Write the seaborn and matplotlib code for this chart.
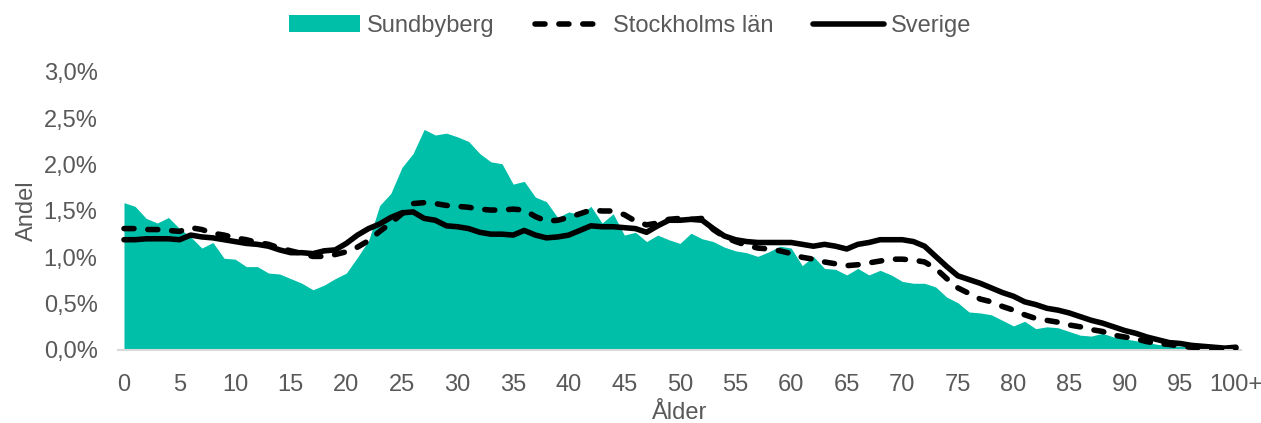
import matplotlib
matplotlib.use("Agg")
import matplotlib.pyplot as plt
import numpy as np
import pandas as pd
import seaborn as sns
from matplotlib.ticker import FuncFormatter, FixedLocator

# ---------------- data (percent of population by age) ----------------
ages = list(range(101))

sundbyberg = [1.59, 1.55, 1.42, 1.37, 1.43, 1.31, 1.22, 1.10, 1.16, 0.99,
              0.98, 0.90, 0.90, 0.83, 0.82, 0.77, 0.72, 0.65, 0.70, 0.77,
              0.83, 1.00, 1.18, 1.56, 1.69, 1.97, 2.12, 2.38, 2.32, 2.34,
              2.30, 2.25, 2.12, 2.03, 2.01, 1.79, 1.82, 1.65, 1.60, 1.43,
              1.49, 1.46, 1.55, 1.37, 1.47, 1.24, 1.27, 1.17, 1.24, 1.19,
              1.15, 1.26, 1.20, 1.17, 1.11, 1.07, 1.05, 1.01, 1.06, 1.12,
              1.10, 0.91, 1.01, 0.88, 0.87, 0.81, 0.88, 0.81, 0.86, 0.81,
              0.74, 0.72, 0.72, 0.68, 0.57, 0.51, 0.41, 0.40, 0.38, 0.32,
              0.26, 0.31, 0.23, 0.25, 0.24, 0.20, 0.16, 0.15, 0.18, 0.14,
              0.12, 0.10, 0.08, 0.06, 0.05, 0.04, 0.03, 0.02, 0.01, 0.01,
              0.01]

stockholms_lan = [1.31, 1.31, 1.30, 1.30, 1.29, 1.28, 1.32, 1.30, 1.26, 1.24,
                  1.21, 1.19, 1.16, 1.14, 1.10, 1.07, 1.04, 1.01, 1.01, 1.03,
                  1.06, 1.11, 1.18, 1.28, 1.37, 1.47, 1.58, 1.59, 1.58, 1.56,
                  1.55, 1.54, 1.52, 1.51, 1.51, 1.52, 1.51, 1.44, 1.39, 1.40,
                  1.43, 1.47, 1.51, 1.50, 1.50, 1.46, 1.39, 1.35, 1.37, 1.41,
                  1.42, 1.41, 1.42, 1.30, 1.22, 1.17, 1.13, 1.10, 1.09, 1.07,
                  1.04, 1.00, 0.98, 0.95, 0.93, 0.91, 0.92, 0.94, 0.96, 0.98,
                  0.98, 0.97, 0.95, 0.88, 0.77, 0.67, 0.61, 0.55, 0.52, 0.47,
                  0.43, 0.38, 0.34, 0.32, 0.30, 0.27, 0.25, 0.22, 0.20, 0.16,
                  0.14, 0.12, 0.09, 0.07, 0.06, 0.04, 0.03, 0.02, 0.015, 0.01,
                  0.02]

sverige = [1.19, 1.19, 1.20, 1.20, 1.20, 1.19, 1.24, 1.22, 1.21, 1.19,
           1.17, 1.15, 1.14, 1.12, 1.08, 1.05, 1.05, 1.04, 1.07, 1.08,
           1.15, 1.24, 1.31, 1.36, 1.43, 1.48, 1.49, 1.42, 1.40, 1.34,
           1.33, 1.31, 1.27, 1.25, 1.25, 1.24, 1.29, 1.24, 1.21, 1.22,
           1.24, 1.29, 1.34, 1.33, 1.33, 1.32, 1.31, 1.27, 1.34, 1.40,
           1.40, 1.41, 1.40, 1.31, 1.23, 1.19, 1.17, 1.16, 1.16, 1.16,
           1.16, 1.14, 1.12, 1.14, 1.12, 1.09, 1.14, 1.16, 1.19, 1.19,
           1.19, 1.17, 1.12, 1.01, 0.90, 0.80, 0.76, 0.72, 0.67, 0.62,
           0.58, 0.52, 0.49, 0.45, 0.43, 0.40, 0.36, 0.32, 0.29, 0.25,
           0.21, 0.18, 0.14, 0.11, 0.08, 0.07, 0.05, 0.04, 0.03, 0.02,
           0.03]

x_tick_values = list(range(0, 101, 5))
x_tick_labels = [str(v) for v in range(0, 100, 5)] + ["100+"]
y_tick_values = [0.0, 0.5, 1.0, 1.5, 2.0, 2.5, 3.0]

series_names = ["Sundbyberg", "Stockholms län", "Sverige"]

df = pd.DataFrame({
    "Ålder": ages,
    "Sundbyberg": sundbyberg,
    "Stockholms län": stockholms_lan,
    "Sverige": sverige,
})

# ---------------- style ----------------
sns.set_theme(style="white")
plt.rcParams["font.family"] = ["Liberation Sans", "DejaVu Sans"]

TEAL = "#00BFA9"
TEXT = "#595959"
FS = 17

fig = plt.figure(figsize=(12.61, 4.23), dpi=100)
ax = fig.add_axes([0.0939, 0.1726, 0.8906, 0.6572])

ax.fill_between(df["Ålder"], df["Sundbyberg"], color=TEAL, lw=0,
                label=series_names[0], zorder=1)
sns.lineplot(data=df, x="Ålder", y="Stockholms län", ax=ax, color="black",
             lw=4, label=series_names[1], zorder=3)
sns.lineplot(data=df, x="Ålder", y="Sverige", ax=ax, color="black",
             lw=4, label=series_names[2], zorder=2)

lines = ax.get_lines()
lines[0].set_linestyle((0, (1.8, 2.5)))
lines[0].set_dash_capstyle("round")
lines[1].set_solid_capstyle("round")
lines[1].set_solid_joinstyle("round")

ax.set_xlim(-0.5, 100.5)
ax.set_ylim(0, 3.0)
ax.xaxis.set_major_locator(FixedLocator(x_tick_values))
ax.set_xticklabels(x_tick_labels)
ax.yaxis.set_major_locator(FixedLocator(y_tick_values))
ax.yaxis.set_major_formatter(FuncFormatter(lambda v, p: f"{v:.1f}%".replace(".", ",")))

ax.tick_params(axis="both", colors=TEXT, labelsize=FS, length=0)
ax.tick_params(axis="x", pad=17)
ax.tick_params(axis="y", pad=15)

for s in ["top", "right", "left"]:
    ax.spines[s].set_visible(False)
ax.spines["bottom"].set_color("#D9D9D9")
ax.spines["bottom"].set_linewidth(1.5)
ax.grid(False)

ax.set_xlabel("Ålder", color=TEXT, fontsize=FS)
ax.set_ylabel("Andel", color=TEXT, fontsize=FS)
ax.xaxis.set_label_coords(0.5, -0.186)
ax.yaxis.set_label_coords(-0.0716, 0.5)

handles, labels = ax.get_legend_handles_labels()
leg = ax.legend(handles, labels, loc="center", bbox_to_anchor=(0.5, 0.939),
                bbox_transform=fig.transFigure, ncol=3, frameon=False,
                fontsize=FS, handlelength=3.0, handletextpad=0.3,
                columnspacing=1.7, labelcolor=TEXT)

fig.savefig("out.png", dpi=100)
